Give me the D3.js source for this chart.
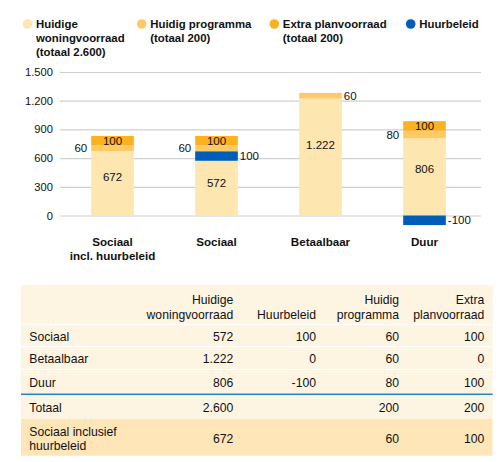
<!DOCTYPE html>
<html>
<head>
<meta charset="utf-8">
<script src="https://cdn.jsdelivr.net/npm/d3@7"></script>
<style>
  body { margin: 0; background: #fff; }
  svg { display: block; font-family: "Liberation Sans", Arial, sans-serif; }
</style>
</head>
<body>
<svg id="chart"></svg>
<script>
// categorieen en reeksen van de grafiek
var categories = [["Sociaal", "incl. huurbeleid"], ["Sociaal"], ["Betaalbaar"], ["Duur"]];
var voorraad = [672, 572, 1222, 806];
var huurbeleid = [0, 100, 0, -100];
var programma = [60, 60, 60, 80];
var extra = [100, 100, 0, 100];
var yTicks = [0, 300, 600, 900, 1200, 1500];

var legendLabels = [
  ["Huidige", "woningvoorraad", "(totaal 2.600)"],
  ["Huidig programma", "(totaal 200)"],
  ["Extra planvoorraad", "(totaal 200)"],
  ["Huurbeleid"]
];

// tabel onder de grafiek
var tableHeaders = [["Huidige", "woningvoorraad"], ["Huurbeleid"], ["Huidig", "programma"], ["Extra", "planvoorraad"]];
var tableRowLabels = [["Sociaal"], ["Betaalbaar"], ["Duur"], ["Totaal"], ["Sociaal inclusief", "huurbeleid"]];
var tableValues = [
  [572, 100, 60, 100],
  [1222, 0, 60, 0],
  [806, -100, 80, 100],
  [2600, null, 200, 200],
  [672, null, 60, 100]
];

var keys = ["voorraad", "huurbeleid", "programma", "extra"];
var colors = { voorraad: "#fee6b1", huurbeleid: "#005eb8", programma: "#feca66", extra: "#fbb120" };

var nl = d3.formatLocale({ decimal: ",", thousands: ".", grouping: [3], currency: ["€", ""], minus: "-" });
var fmt = nl.format(",d");

var svg = d3.select("#chart").attr("width", 504).attr("height", 462);

// legenda
var legendX = [27.5, 141.7, 274.3, 410.7];
var legend = svg.append("g");
var legendKeys = ["voorraad", "programma", "extra", "huurbeleid"];
legendKeys.forEach(function(k, i) {
  var g = legend.append("g").attr("transform", "translate(" + legendX[i] + ",24)");
  g.append("circle").attr("r", 4.8).attr("fill", colors[k]);
  var t = g.append("text").attr("x", 8.5).attr("y", 4.2)
    .attr("font-size", 11.4).attr("font-weight", "bold").attr("fill", "#111");
  legendLabels[i].forEach(function(line, j) {
    t.append("tspan").attr("x", 8.5).attr("dy", j === 0 ? 0 : 14).text(line);
  });
});

// schalen
var data = categories.map(function(c, i) {
  return { i: i, voorraad: voorraad[i], huurbeleid: huurbeleid[i], programma: programma[i], extra: extra[i] };
});

var x = d3.scaleBand()
  .domain(d3.range(categories.length))
  .range([60.5, 476.5])
  .paddingInner(0.59)
  .paddingOuter(0.295);

var y = d3.scaleLinear().domain([0, 1500]).range([215.5, 72]);

// rasterlijnen + labels y-as
var yAxis = svg.append("g")
  .attr("transform", "translate(60,0)")
  .call(d3.axisLeft(y).tickValues(yTicks).tickSize(-421).tickPadding(7).tickFormat(fmt));
yAxis.select(".domain").remove();
yAxis.selectAll(".tick line").attr("stroke", "#cfcfcf").attr("stroke-width", 1.2);
yAxis.selectAll(".tick text").attr("font-size", 11.2).attr("fill", "#111")
  .attr("font-family", "\"Liberation Sans\", Arial, sans-serif");

// gestapelde balken
var stack = d3.stack().keys(keys).offset(d3.stackOffsetDiverging);
var series = stack(data);

var bars = svg.append("g");
series.forEach(function(s) {
  bars.selectAll(null)
    .data(s)
    .join("rect")
    .attr("x", function(d) { return x(d.data.i); })
    .attr("width", x.bandwidth())
    .attr("y", function(d) { return y(Math.max(d[0], d[1])); })
    .attr("height", function(d) { return Math.abs(y(d[0]) - y(d[1])); })
    .attr("fill", colors[s.key]);
});

// waardelabels
var labels = svg.append("g").attr("font-size", 11.5).attr("fill", "#111");
series.forEach(function(s) {
  s.forEach(function(d) {
    var v = d.data[s.key];
    if (!v) return;
    var left = x(d.data.i), right = left + x.bandwidth(), cx = left + x.bandwidth() / 2;
    var mid = y((d[0] + d[1]) / 2);
    var tx = cx, anchor = "middle";
    if (s.key === "voorraad") {
      mid = y(d[0] + (d[1] - d[0]) * 0.6);
    } else if (s.key === "huurbeleid") {
      tx = right + 2; anchor = "start";
    } else if (s.key === "programma") {
      if (d.data.extra) { tx = left - 4; anchor = "end"; }
      else { tx = right + 2; anchor = "start"; }
    }
    labels.append("text")
      .attr("x", tx).attr("y", mid).attr("dy", "0.36em")
      .attr("text-anchor", anchor)
      .text(fmt(v));
  });
});

// categorielabels x-as
var xl = svg.append("g").attr("font-size", 11.6).attr("font-weight", "bold").attr("fill", "#111");
categories.forEach(function(c, i) {
  var t = xl.append("text").attr("x", x(i) + x.bandwidth() / 2).attr("y", 245.8).attr("text-anchor", "middle");
  c.forEach(function(line, j) {
    t.append("tspan").attr("x", x(i) + x.bandwidth() / 2).attr("dy", j === 0 ? 0 : 14.4).text(line);
  });
});

// tabel
var tbl = svg.append("g").attr("font-size", 12.2).attr("fill", "#111");
var tLeft = 21, tRight = 492.7;
var rowEdges = [285, 324.3, 346.7, 369.3, 394.3, 419, 455.7];
var colRight = [233.3, 316, 399, 484.3];

tbl.append("rect").attr("x", tLeft).attr("y", rowEdges[0])
  .attr("width", tRight - tLeft).attr("height", rowEdges[5] - rowEdges[0]).attr("fill", "#fef4e2");
tbl.append("rect").attr("x", tLeft).attr("y", rowEdges[5])
  .attr("width", tRight - tLeft).attr("height", rowEdges[6] - rowEdges[5]).attr("fill", "#fee6b9");
[1, 2, 3].forEach(function(r) {
  tbl.append("line").attr("x1", tLeft).attr("x2", tRight)
    .attr("y1", rowEdges[r]).attr("y2", rowEdges[r]).attr("stroke", "#fff").attr("stroke-width", 1.3);
});
tbl.append("line").attr("x1", tLeft).attr("x2", tRight)
  .attr("y1", rowEdges[4]).attr("y2", rowEdges[4]).attr("stroke", "#1a8cc6").attr("stroke-width", 1.5);

// kopregel, onderaan uitgelijnd
tableHeaders.forEach(function(h, c) {
  h.forEach(function(line, j) {
    var lineIdx = 2 - h.length + j;
    tbl.append("text").attr("x", colRight[c]).attr("y", 304.3 + lineIdx * 14.3)
      .attr("text-anchor", "end").text(line);
  });
});

// rijen
tableRowLabels.forEach(function(lab, r) {
  var cy = (rowEdges[r + 1] + rowEdges[r + 2]) / 2 + 1;
  lab.forEach(function(line, j) {
    var off = (j - (lab.length - 1) / 2) * 14.3;
    tbl.append("text").attr("x", 29.3).attr("y", cy + off).attr("dy", "0.36em").text(line);
  });
  tableValues[r].forEach(function(v, c) {
    if (v === null) return;
    tbl.append("text").attr("x", colRight[c]).attr("y", cy).attr("dy", "0.36em")
      .attr("text-anchor", "end").text(fmt(v));
  });
});
</script>
</body>
</html>
